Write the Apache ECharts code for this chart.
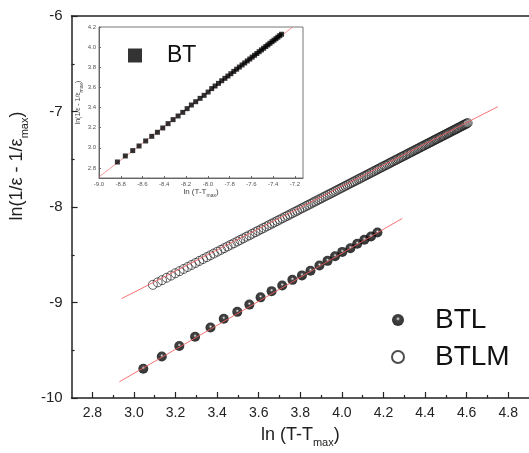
<!DOCTYPE html>
<html><head><meta charset="utf-8">
<script src="https://cdn.jsdelivr.net/npm/echarts@6/dist/echarts.min.js"></script>
<style>html,body{margin:0;padding:0;background:#fff}#c{width:529px;height:453px}</style>
</head><body><div id="c"></div>
<script>
// ---- data ----
const btlX = [3.045,3.134,3.218,3.294,3.368,3.432,3.497,3.555,3.609,3.662,3.713,3.762,3.808,3.849,3.892,3.931,3.967,4.002,4.041,4.074,4.108,4.140,4.171];
const btlY = [-9.693,-9.566,-9.455,-9.359,-9.262,-9.170,-9.098,-9.022,-8.946,-8.881,-8.822,-8.763,-8.716,-8.667,-8.612,-8.564,-8.515,-8.470,-8.432,-8.385,-8.343,-8.308,-8.267];

const btlmX = [
3.091,3.114,3.135,3.157,3.178,3.199,3.219,3.239,3.258,3.277,
3.296,3.314,3.332,3.350,3.367,3.384,3.401,3.418,3.434,3.450,
3.466,3.481,3.497,3.511,3.526,3.541,3.555,3.569,3.584,3.597,
3.611,3.624,3.638,3.651,3.664,3.676,3.689,3.701,3.714,3.726,
3.738,3.749,3.761,3.773,3.784,3.795,3.807,3.818,3.829,3.839,
3.850,3.861,3.871,3.882,3.892,3.902,3.912,3.922,3.932,3.942,
3.951,3.961,3.970,3.980,3.989,3.998,4.007,4.016,4.025,4.034,
4.043,4.052,4.060,4.069,4.078,4.086,4.094,4.103,4.111,4.119,
4.127,4.135,4.143,4.151,4.159,4.167,4.174,4.182,4.190,4.197,
4.205,4.212,4.220,4.227,4.234,4.241,4.248,4.256,4.263,4.270,
4.277,4.284,4.290,4.297,4.304,4.311,4.317,4.324,4.331,4.337,
4.344,4.350,4.357,4.363,4.369,4.376,4.382,4.388,4.394,4.401,
4.407,4.413,4.419,4.425,4.431,4.437,4.443,4.449,4.454,4.460,
4.466,4.472,4.477,4.483,4.489,4.494,4.500,4.505,4.511,4.516,
4.522,4.527,4.533,4.538,4.543,4.549,4.554,4.559,4.564,4.570,
4.575,4.580,4.585,4.590,4.595,4.600,4.605];
const btlmY = [
-8.815,-8.789,-8.766,-8.741,-8.718,-8.694,-8.672,-8.649,-8.628,-8.607,
-8.586,-8.565,-8.545,-8.525,-8.506,-8.487,-8.468,-8.449,-8.431,-8.413,
-8.395,-8.379,-8.361,-8.345,-8.328,-8.311,-8.296,-8.280,-8.263,-8.249,
-8.233,-8.219,-8.203,-8.188,-8.174,-8.160,-8.146,-8.132,-8.118,-8.104,
-8.091,-8.079,-8.065,-8.052,-8.040,-8.027,-8.014,-8.002,-7.989,-7.978,
-7.966,-7.953,-7.942,-7.930,-7.919,-7.908,-7.896,-7.885,-7.874,-7.863,
-7.853,-7.842,-7.831,-7.820,-7.810,-7.800,-7.790,-7.780,-7.770,-7.760,
-7.750,-7.740,-7.731,-7.721,-7.711,-7.702,-7.693,-7.683,-7.674,-7.665,
-7.656,-7.647,-7.638,-7.629,-7.620,-7.611,-7.603,-7.594,-7.585,-7.577,
-7.568,-7.561,-7.552,-7.544,-7.536,-7.528,-7.520,-7.511,-7.504,-7.496,
-7.488,-7.480,-7.473,-7.466,-7.458,-7.450,-7.443,-7.435,-7.427,-7.421,
-7.413,-7.406,-7.398,-7.392,-7.385,-7.377,-7.370,-7.364,-7.357,-7.349,
-7.342,-7.336,-7.329,-7.322,-7.316,-7.309,-7.302,-7.295,-7.290,-7.283,
-7.276,-7.270,-7.264,-7.257,-7.251,-7.245,-7.238,-7.233,-7.226,-7.220,
-7.214,-7.208,-7.201,-7.196,-7.190,-7.184,-7.178,-7.172,-7.167,-7.160,
-7.154,-7.149,-7.143,-7.138,-7.132,-7.126,-7.121];

const btX = [-8.831,-8.758,-8.690,-8.632,-8.571,-8.515,-8.463,-8.414,-8.365,-8.319,-8.273,-8.230,-8.190,-8.151,-8.111,-8.071,-8.034,-7.997,-7.964,-7.933,-7.902,-7.872,-7.843,-7.815,-7.788,-7.761,-7.735,-7.710,-7.685,-7.661,-7.637,-7.614,-7.592,-7.570,-7.549,-7.528,-7.507,-7.487,-7.467,-7.448,-7.429,-7.410,-7.392,-7.374,-7.356,-7.339,-7.322];
const btY = [2.859,2.919,2.972,3.018,3.068,3.114,3.154,3.197,3.240,3.280,3.316,3.352,3.389,3.425,3.458,3.491,3.521,3.554,3.588,3.614,3.640,3.666,3.690,3.713,3.736,3.759,3.781,3.802,3.823,3.843,3.863,3.882,3.901,3.919,3.937,3.955,3.972,3.989,4.006,4.022,4.038,4.054,4.069,4.084,4.099,4.114,4.128];

const fitBtlX = [2.93, 4.29],  fitBtlY = [-9.83, -8.12];
const fitBtlmX = [2.94, 4.75], fitBtlmY = [-8.96, -6.95];
const fitBtX = [-9.0, -7.22],  fitBtY = [2.71, 4.2];

const xMajorTicks = [2.8,3.0,3.2,3.4,3.6,3.8,4.0,4.2,4.4,4.6,4.8];
const xMinorTicks = [2.9,3.1,3.3,3.5,3.7,3.9,4.1,4.3,4.5,4.7];
const insetYTicks = [2.8,3.0,3.2,3.4,3.6,3.8,4.0,4.2];

// ---- chart ----
const zip = (a, b) => a.map((v, i) => [v, b[i]]);
const FONT = 'Liberation Sans, Arial, sans-serif';
const axisCol = '#222';
const red = '#f25c5c';

const sphere = {
  type: 'radial', x: 0.5, y: 0.4, r: 0.55,
  colorStops: [{offset: 0, color: '#ffffff'}, {offset: 0.1, color: '#aaaaaa'},
               {offset: 0.3, color: '#141414'}, {offset: 1, color: '#000'}]
};

const chart = echarts.init(document.getElementById('c'));
chart.setOption({
  animation: false,
  backgroundColor: '#fff',
  textStyle: {fontFamily: FONT},
  grid: [
    {left: 55, right: -5, top: 16, bottom: 50, show: false},
    {left: 99, top: 27, width: 204, height: 151, show: true, backgroundColor: '#fff', borderColor: '#777', borderWidth: 1}
  ],
  legend: [
    {data: ['BTL', 'BTLM'], orient: 'vertical', left: 386, top: 301, itemWidth: 12, itemHeight: 12, itemGap: 9,
     textStyle: {fontSize: 28, color: '#111', lineHeight: 28, padding: [0, 0, 0, 26], fontFamily: FONT}},
    {data: ['BT'], left: 123, top: 39, itemWidth: 14, itemHeight: 14, icon: 'rect',
     textStyle: {fontSize: 23, color: '#111', lineHeight: 23, padding: [0, 0, 0, 20], fontFamily: FONT}}
  ],
  xAxis: [
    {gridIndex: 0, type: 'value', min: 2.7, max: 4.9, position: 'bottom',
     axisLine: {show: true, lineStyle: {color: axisCol, width: 1.5}},
     axisTick: {show: true, inside: true, length: 6, customValues: xMajorTicks, lineStyle: {color: axisCol, width: 1.2}},
     axisLabel: {customValues: xMajorTicks, formatter: v => v.toFixed(1), fontSize: 14, color: '#222', margin: 8},
     splitLine: {show: false},
     name: '{a|ln (T-T}{s|max}{a|)}', nameLocation: 'middle', nameGap: 28,
     nameTextStyle: {rich: {a: {fontSize: 18, color: '#222', lineHeight: 22, verticalAlign: 'top', fontFamily: FONT},
                            s: {fontSize: 11, color: '#222', lineHeight: 11, verticalAlign: 'bottom', fontFamily: FONT}}}},
    {gridIndex: 0, type: 'value', min: 2.7, max: 4.9, position: 'bottom',
     axisLine: {show: false},
     axisTick: {show: true, inside: true, length: 3, customValues: xMinorTicks, lineStyle: {color: axisCol, width: 1.2}},
     axisLabel: {show: false}, splitLine: {show: false}},
    {gridIndex: 0, type: 'value', min: 2.7, max: 4.9, position: 'top',
     axisLine: {show: true, lineStyle: {color: axisCol, width: 1.5}},
     axisTick: {show: false}, axisLabel: {show: false}, splitLine: {show: false}},
    {gridIndex: 1, type: 'value', min: -9.0, max: -7.125, interval: 0.2, position: 'bottom',
     axisLine: {show: true, lineStyle: {color: '#666', width: 1}},
     axisTick: {show: true, inside: true, length: 2, lineStyle: {color: '#666'}},
     axisLabel: {formatter: v => v.toFixed(1), fontSize: 6, color: '#555', margin: 3},
     splitLine: {show: false},
     name: '{a|ln (T-T}{s|max}{a|)}', nameLocation: 'middle', nameGap: 10,
     nameTextStyle: {rich: {a: {fontSize: 8, color: '#444', lineHeight: 10, verticalAlign: 'top', fontFamily: FONT},
                            s: {fontSize: 5, color: '#444', lineHeight: 5, verticalAlign: 'bottom', fontFamily: FONT}}}}
  ],
  yAxis: [
    {gridIndex: 0, type: 'value', min: -10, max: -6, interval: 1,
     axisLine: {show: true, lineStyle: {color: axisCol, width: 1.5}},
     axisTick: {show: true, inside: true, length: 6, lineStyle: {color: axisCol, width: 1.2}},
     minorTick: {show: true, splitNumber: 2, length: 3, lineStyle: {color: axisCol, width: 1.2}},
     axisLabel: {fontSize: 15, color: '#222', margin: 9},
     splitLine: {show: false},
     name: '{a|ln(1/ε - 1/ε}{s|max}{a|)}', nameLocation: 'middle', nameGap: 22,
     nameTextStyle: {padding: [0, 0, 0, 82],
       rich: {a: {fontSize: 18, color: '#222', lineHeight: 22, verticalAlign: 'top', fontFamily: FONT},
              s: {fontSize: 11, color: '#222', lineHeight: 11, verticalAlign: 'bottom', fontFamily: FONT}}}},
    {gridIndex: 1, type: 'value', min: 2.7, max: 4.2,
     axisLine: {show: true, lineStyle: {color: '#666', width: 1}},
     axisTick: {show: true, inside: true, length: 2, customValues: insetYTicks, lineStyle: {color: '#666'}},
     axisLabel: {customValues: insetYTicks, formatter: v => v.toFixed(1), fontSize: 6, color: '#555', margin: 3},
     splitLine: {show: false},
     name: '{a|ln(1/ε - 1/ε}{s|max}{a|)}', nameLocation: 'middle', nameGap: 14,
     nameTextStyle: {rich: {a: {fontSize: 7, color: '#444', lineHeight: 9, verticalAlign: 'top', fontFamily: FONT},
                            s: {fontSize: 5, color: '#444', lineHeight: 5, verticalAlign: 'bottom', fontFamily: FONT}}}}
  ],
  series: [
    {name: 'BTLM', type: 'scatter', xAxisIndex: 0, yAxisIndex: 0, symbol: 'circle', symbolSize: 9,
     itemStyle: {color: 'rgba(255,255,255,0)', borderColor: '#222', borderWidth: 0.9},
     data: zip(btlmX, btlmY), z: 3},
    {name: 'BTL', type: 'scatter', xAxisIndex: 0, yAxisIndex: 0, symbol: 'circle', symbolSize: 10,
     itemStyle: {color: sphere}, data: zip(btlX, btlY), z: 3},
    {name: 'fitBTL', type: 'line', xAxisIndex: 0, yAxisIndex: 0, showSymbol: false, silent: true,
     lineStyle: {color: red, width: 1, opacity: 0.85}, data: zip(fitBtlX, fitBtlY), z: 4},
    {name: 'fitBTLM', type: 'line', xAxisIndex: 0, yAxisIndex: 0, showSymbol: false, silent: true,
     lineStyle: {color: red, width: 1, opacity: 0.85}, data: zip(fitBtlmX, fitBtlmY), z: 4},
    {name: 'BT', type: 'scatter', xAxisIndex: 3, yAxisIndex: 1, symbol: 'rect', symbolSize: 5,
     itemStyle: {color: '#000'}, data: zip(btX, btY), z: 3},
    {name: 'fitBT', type: 'line', xAxisIndex: 3, yAxisIndex: 1, showSymbol: false, silent: true, clip: true,
     lineStyle: {color: red, width: 0.8, opacity: 0.8}, data: zip(fitBtX, fitBtY), z: 2}
  ]
});
</script>
</body></html>
